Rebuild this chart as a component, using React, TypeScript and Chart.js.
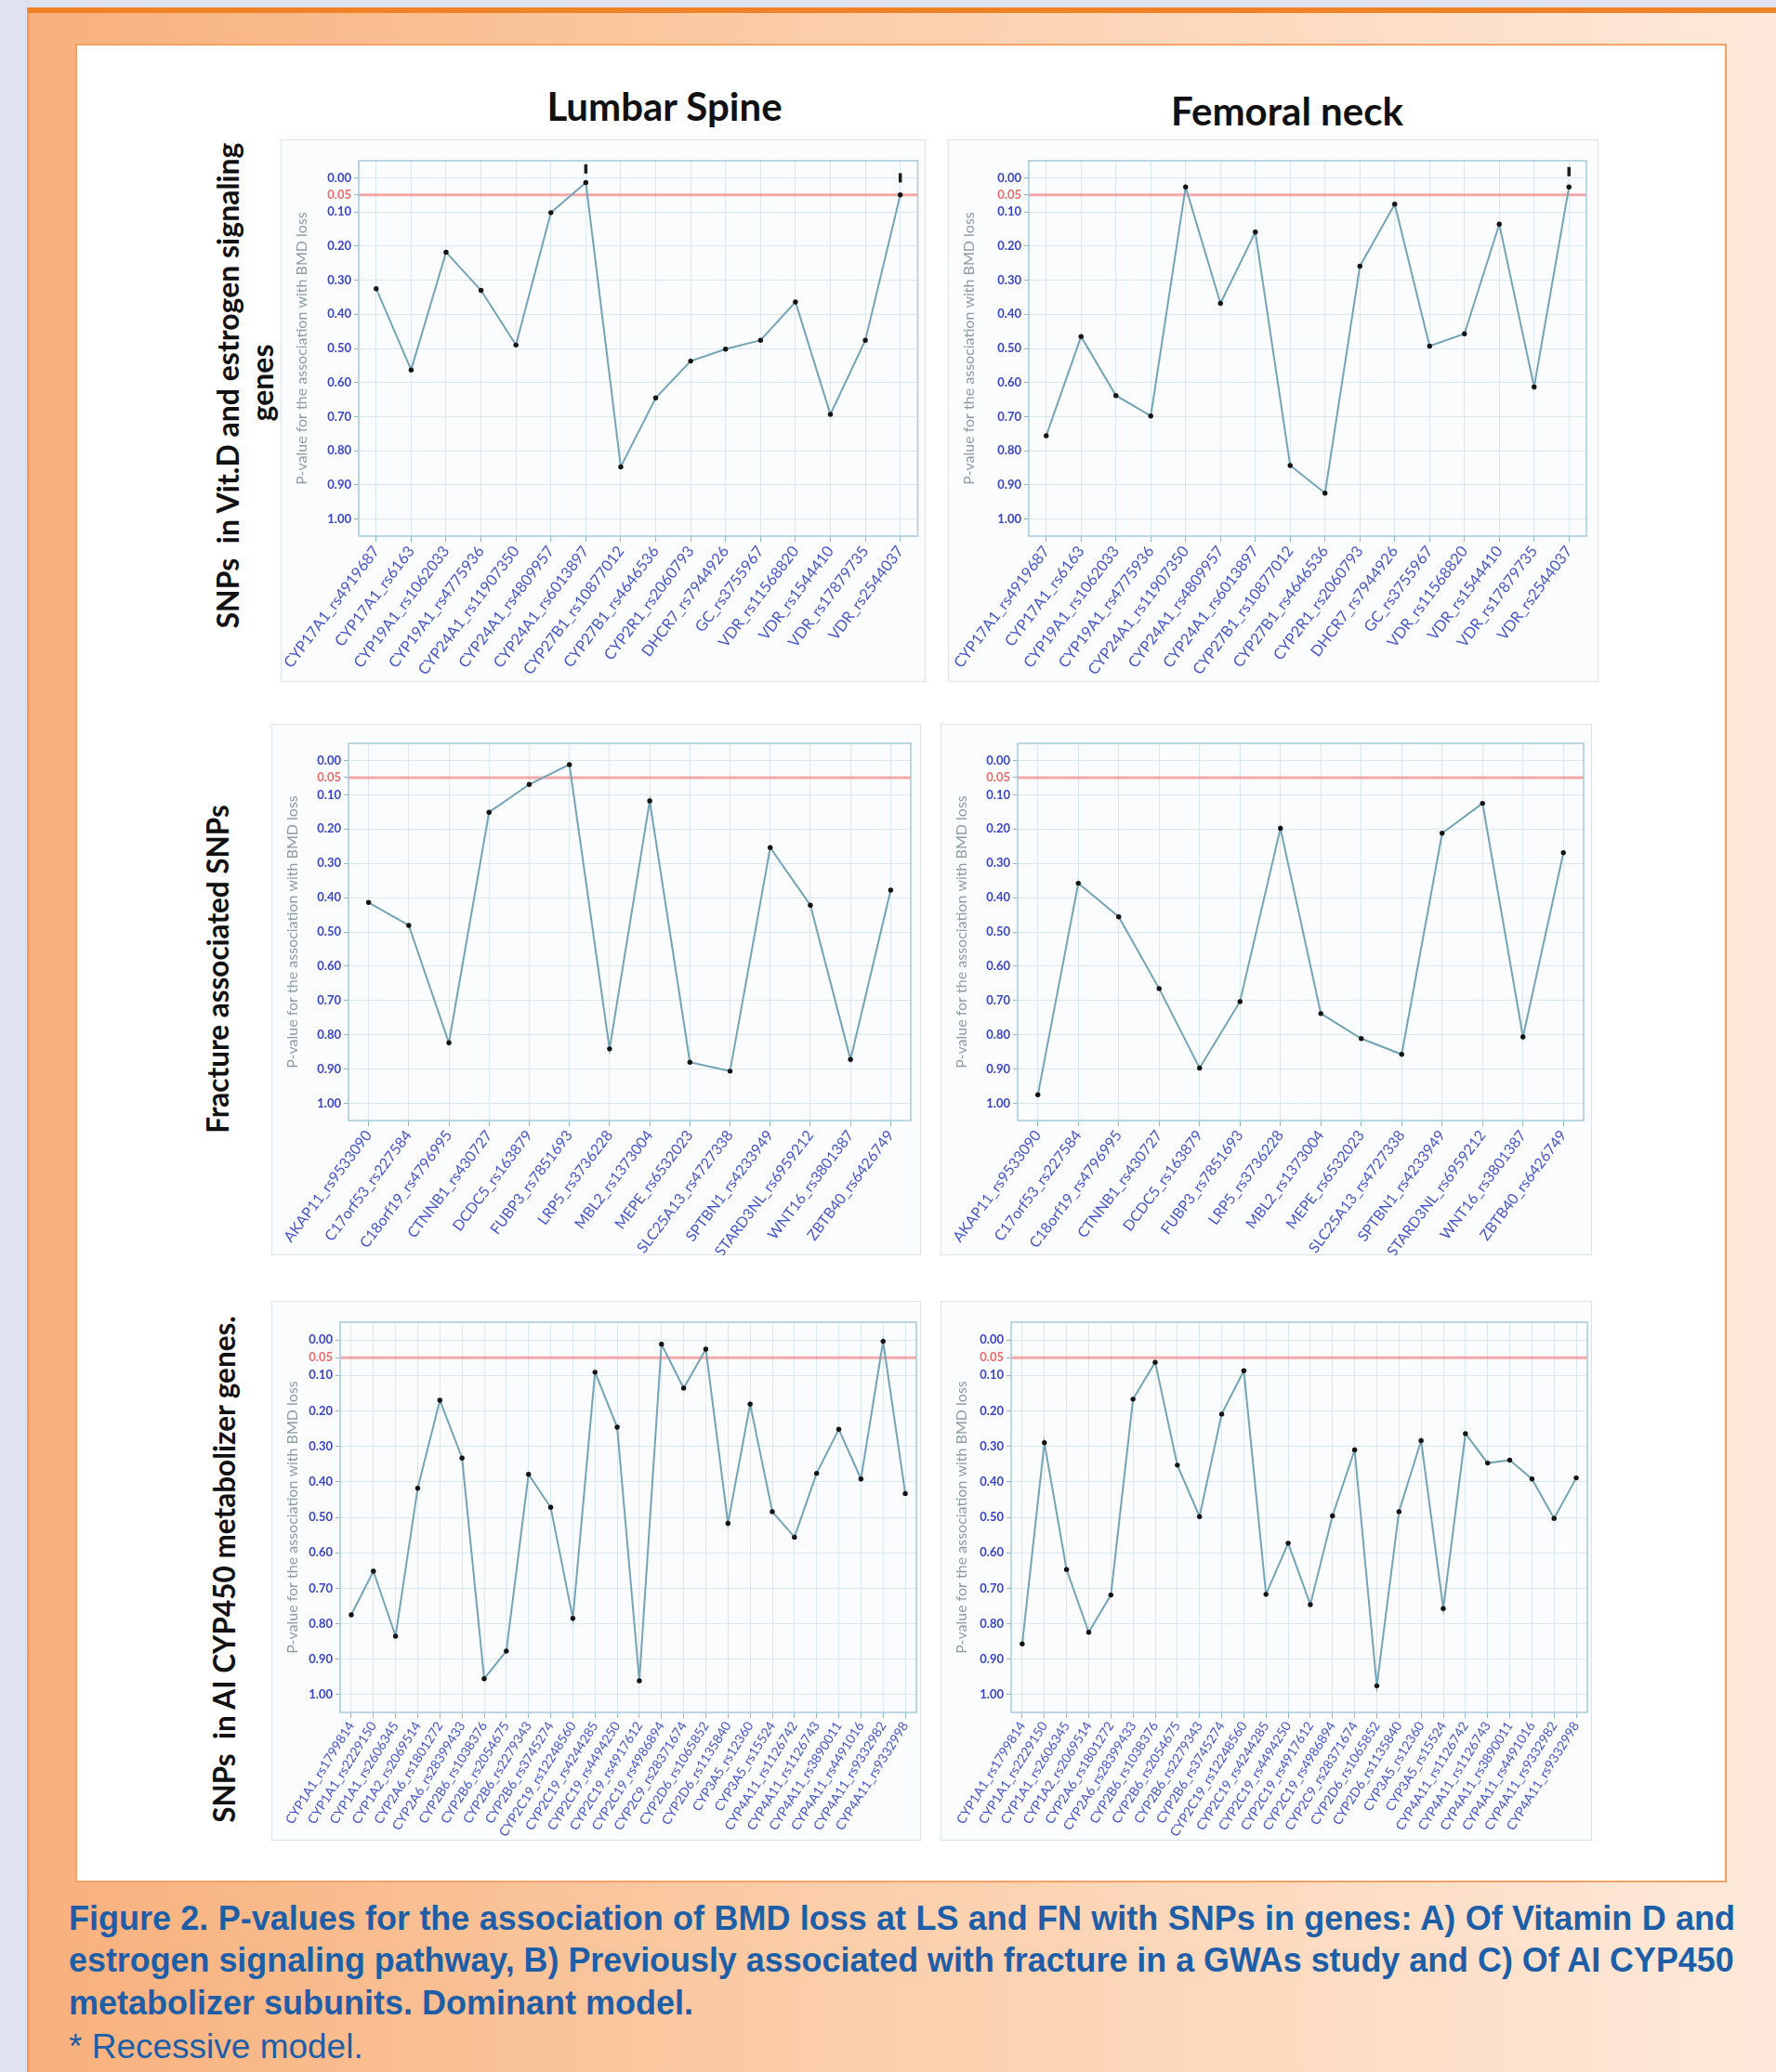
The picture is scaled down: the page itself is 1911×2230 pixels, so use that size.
import React, { useEffect, useRef } from 'react';
import { Chart, registerables } from 'chart.js';
Chart.register(...registerables);

// ---------------- DATA ----------------
const vitDLabels = [
  'CYP17A1_rs4919687', 'CYP17A1_rs6163', 'CYP19A1_rs1062033', 'CYP19A1_rs4775936',
  'CYP24A1_rs11907350', 'CYP24A1_rs4809957', 'CYP24A1_rs6013897', 'CYP27B1_rs10877012',
  'CYP27B1_rs4646536', 'CYP2R1_rs2060793', 'DHCR7_rs7944926', 'GC_rs3755967',
  'VDR_rs11568820', 'VDR_rs1544410', 'VDR_rs17879735', 'VDR_rs2544037',
];
const lsVitD = [0.325, 0.563, 0.218, 0.330, 0.490, 0.102, 0.014, 0.847, 0.645, 0.537, 0.502, 0.476, 0.364, 0.693, 0.476, 0.050];
const lsVitDRecessive = [null, null, null, null, null, null, -0.026, null, null, null, null, null, null, null, null, 0.0];
const fnVitD = [0.756, 0.465, 0.638, 0.698, 0.027, 0.368, 0.159, 0.843, 0.924, 0.259, 0.077, 0.493, 0.457, 0.136, 0.613, 0.027];
const fnVitDRecessive = [null, null, null, null, null, null, null, null, null, null, null, null, null, null, null, -0.018];

const fractureLabels = [
  'AKAP11_rs9533090', 'C17orf53_rs227584', 'C18orf19_rs4796995', 'CTNNB1_rs430727',
  'DCDC5_rs163879', 'FUBP3_rs7851693', 'LRP5_rs3736228', 'MBL2_rs1373004',
  'MEPE_rs6532023', 'SLC25A13_rs4727338', 'SPTBN1_rs4233949', 'STARD3NL_rs6959212',
  'WNT16_rs3801387', 'ZBTB40_rs6426749',
];
const lsFracture = [0.414, 0.481, 0.823, 0.151, 0.070, 0.012, 0.841, 0.118, 0.880, 0.906, 0.254, 0.422, 0.872, 0.378];
const fnFracture = [0.975, 0.358, 0.456, 0.665, 0.897, 0.703, 0.198, 0.738, 0.811, 0.857, 0.212, 0.125, 0.806, 0.269];

const cypLabels = [
  'CYP1A1_rs1799814', 'CYP1A1_rs2229150', 'CYP1A1_rs2606345', 'CYP1A2_rs2069514',
  'CYP2A6_rs1801272', 'CYP2A6_rs28399433', 'CYP2B6_rs1038376', 'CYP2B6_rs2054675',
  'CYP2B6_rs2279343', 'CYP2B6_rs3745274', 'CYP2C19_rs12248560', 'CYP2C19_rs4244285',
  'CYP2C19_rs4494250', 'CYP2C19_rs4917612', 'CYP2C19_rs4986894', 'CYP2C9_rs28371674',
  'CYP2D6_rs1065852', 'CYP2D6_rs1135840', 'CYP3A5_rs12360', 'CYP3A5_rs15524',
  'CYP4A11_rs1126742', 'CYP4A11_rs1126743', 'CYP4A11_rs3890011', 'CYP4A11_rs4491016',
  'CYP4A11_rs9332982', 'CYP4A11_rs9332998',
];
const lsCyp = [0.775, 0.652, 0.835, 0.418, 0.170, 0.333, 0.955, 0.877, 0.379, 0.472, 0.785, 0.091, 0.246, 0.961, 0.012, 0.136, 0.026, 0.517, 0.181, 0.484, 0.556, 0.376, 0.252, 0.392, 0.004, 0.433];
const fnCyp = [0.857, 0.290, 0.647, 0.824, 0.719, 0.167, 0.063, 0.353, 0.498, 0.209, 0.087, 0.717, 0.573, 0.746, 0.496, 0.310, 0.975, 0.484, 0.284, 0.757, 0.264, 0.347, 0.339, 0.392, 0.503, 0.389];

const yTickValues = [0, 0.05, 0.1, 0.2, 0.3, 0.4, 0.5, 0.6, 0.7, 0.8, 0.9, 1.0];
const significanceLevel = 0.05;

const columnTitles = ['Lumbar Spine', 'Femoral neck'];
const yAxisTitle = 'P-value for the association with BMD loss';
const captionLines = [
  'Figure 2. P-values for the association of BMD loss at LS and FN with SNPs in genes: A) Of Vitamin D and',
  'estrogen signaling pathway, B) Previously associated with fracture in a GWAs study and C) Of AI CYP450',
  'metabolizer subunits. Dominant model.',
];
const recessiveNote = '* Recessive model.';

// ---------------- STYLE ----------------
const LINE = '#74a4b6';
const GRID = '#d9e8f0';
const BLUE = '#3944c6';
const RED = '#f06a6a';
const XLABEL = '#4756cb';
const CAPTION = '#1e5ea7';
const CAPTION_FONT = '"Liberation Sans", Arial, sans-serif';

type Box = { x: number; y: number; w: number; h: number };
type Plot = { l: number; t: number; r: number; b: number };
type PanelCfg = {
  labels: string[];
  values: number[];
  marks?: (number | null)[];
  box: Box;
  plot: Plot;
  xFont: number;
  rot: number;
};

const thresholdPlugin = {
  id: 'threshold',
  beforeDatasetsDraw(chart: any) {
    const { ctx, chartArea, scales } = chart;
    const y = scales.y.getPixelForValue(significanceLevel);
    ctx.save();
    ctx.strokeStyle = 'rgba(242,140,140,0.75)';
    ctx.lineWidth = 3;
    ctx.beginPath();
    ctx.moveTo(chartArea.left, y);
    ctx.lineTo(chartArea.right, y);
    ctx.stroke();
    ctx.restore();
  },
};

const framePlugin = {
  id: 'frame',
  beforeDatasetsDraw(chart: any) {
    const { ctx, chartArea } = chart;
    ctx.save();
    ctx.strokeStyle = '#a8cadb';
    ctx.lineWidth = 1.5;
    ctx.strokeRect(chartArea.left, chartArea.top, chartArea.right - chartArea.left, chartArea.bottom - chartArea.top);
    ctx.restore();
  },
};

function LinePanel({ cfg }: { cfg: PanelCfg }) {
  const ref = useRef<HTMLCanvasElement>(null);
  useEffect(() => {
    const { box, plot } = cfg;
    const datasets: any[] = [
      {
        data: cfg.values,
        borderColor: LINE,
        borderWidth: 2,
        pointRadius: 2.7,
        pointBackgroundColor: '#141414',
        pointBorderColor: '#141414',
        pointBorderWidth: 0,
        tension: 0,
        order: 1,
      },
    ];
    if (cfg.marks) {
      datasets.push({
        data: cfg.marks,
        showLine: false,
        pointStyle: 'line',
        rotation: 90,
        pointRadius: 5,
        pointBorderWidth: 3.5,
        pointBorderColor: '#1e1e1e',
        borderColor: '#1e1e1e',
        clip: false,
        order: 0,
      });
    }
    const chart = new Chart(ref.current as HTMLCanvasElement, {
      type: 'line',
      data: { labels: cfg.labels, datasets },
      options: {
        animation: false,
        responsive: false,
        maintainAspectRatio: false,
        devicePixelRatio: 1,
        layout: { padding: { top: plot.t - box.y, right: box.x + box.w - plot.r, left: 0, bottom: 0 } },
        plugins: { legend: { display: false }, tooltip: { enabled: false } },
        scales: {
          x: {
            type: 'category',
            offset: true,
            grid: { color: GRID, tickColor: '#8fb8cb', tickLength: 6, lineWidth: 1 },
            border: { display: false },
            ticks: {
              autoSkip: false,
              minRotation: cfg.rot,
              maxRotation: cfg.rot,
              color: XLABEL,
              padding: 1,
              font: { family: 'Lato', size: cfg.xFont },
            },
            afterFit: (s: any) => {
              s.height = box.y + box.h - plot.b;
              s.paddingLeft = 0;
              s.paddingRight = 0;
            },
          },
          y: {
            reverse: true,
            min: -0.05,
            max: 1.05,
            afterBuildTicks: (s: any) => {
              s.ticks = yTickValues.map((v) => ({ value: v }));
            },
            ticks: {
              autoSkip: false,
              callback: (v: any) => Number(v).toFixed(2),
              color: (c: any) => (c.tick && Math.abs(c.tick.value - significanceLevel) < 1e-9 ? RED : BLUE),
              font: { family: 'Lato', weight: 'bold', size: 13 },
              padding: 3,
            },
            grid: {
              color: (c: any) => (c.tick && Math.abs(c.tick.value - significanceLevel) < 1e-9 ? 'rgba(0,0,0,0)' : GRID),
              tickColor: '#8fb8cb',
              tickLength: 5,
            },
            border: { display: false },
            title: {
              display: true,
              text: yAxisTitle,
              color: '#8c9ca0',
              font: { family: 'Lato', size: 16 },
              padding: { top: 13, bottom: 0 },
            },
            afterFit: (s: any) => {
              s.width = plot.l - box.x;
              s.paddingTop = 0;
              s.paddingBottom = 0;
            },
          },
        },
      } as any,
      plugins: [thresholdPlugin, framePlugin],
    });
    return () => chart.destroy();
  }, [cfg]);
  const { box } = cfg;
  return (
    <>
      <div
        style={{
          position: 'absolute', left: box.x, top: box.y, width: box.w, height: box.h,
          boxSizing: 'border-box', border: '1px solid #dde4e9', background: '#fbfcfd',
        }}
      />
      <canvas
        ref={ref}
        width={box.w}
        height={box.h}
        style={{ position: 'absolute', left: box.x, top: box.y, width: box.w, height: box.h }}
      />
    </>
  );
}

const panels: PanelCfg[] = [
  { labels: vitDLabels, values: lsVitD, marks: lsVitDRecessive, box: { x: 302, y: 150, w: 694, h: 584 }, plot: { l: 386, t: 173, r: 991, b: 577 }, xFont: 16.5, rot: 53 },
  { labels: vitDLabels, values: fnVitD, marks: fnVitDRecessive, box: { x: 1020, y: 150, w: 700, h: 584 }, plot: { l: 1107, t: 173, r: 1707, b: 577 }, xFont: 16.5, rot: 53 },
  { labels: fractureLabels, values: lsFracture, box: { x: 292, y: 779, w: 699, h: 572 }, plot: { l: 375, t: 800, r: 980, b: 1206 }, xFont: 16, rot: 53 },
  { labels: fractureLabels, values: fnFracture, box: { x: 1012, y: 779, w: 701, h: 572 }, plot: { l: 1095, t: 800, r: 1704, b: 1206 }, xFont: 16, rot: 53 },
  { labels: cypLabels, values: lsCyp, box: { x: 292, y: 1400, w: 699, h: 581 }, plot: { l: 366, t: 1423, r: 986, b: 1843 }, xFont: 14, rot: 58 },
  { labels: cypLabels, values: fnCyp, box: { x: 1012, y: 1400, w: 701, h: 581 }, plot: { l: 1088, t: 1423, r: 1708, b: 1843 }, xFont: 14, rot: 58 },
];

function VText({ text, cx, cy, size }: { text: string; cx: number; cy: number; size: number }) {
  return (
    <div
      style={{
        position: 'absolute', left: cx, top: cy, transform: 'translate(-50%, -50%) rotate(-90deg)',
        whiteSpace: 'pre', fontFamily: 'Lato, sans-serif', fontWeight: 700, fontSize: size, color: '#111',
        lineHeight: 1,
      }}
    >
      {text}
    </div>
  );
}

function measureText(text: string, font: string): number {
  const c = document.createElement('canvas').getContext('2d');
  if (!c) return 0;
  c.font = font;
  return c.measureText(text).width;
}

function CaptionLine({ text, top, size, bold, fitWidth }: { text: string; top: number; size: number; bold: boolean; fitWidth?: number }) {
  const font = `${bold ? 'bold ' : ''}${size}px ${CAPTION_FONT}`;
  const base: any = {
    position: 'absolute', left: 74, top, height: 44, lineHeight: '44px',
    fontFamily: CAPTION_FONT, fontWeight: bold ? 700 : 400, fontSize: size, color: CAPTION, whiteSpace: 'nowrap',
  };
  if (fitWidth) {
    const natural = measureText(text, font);
    if (natural > fitWidth) {
      base.transform = `scaleX(${fitWidth / natural})`;
      base.transformOrigin = 'left center';
    } else {
      base.width = fitWidth;
      base.textAlign = 'justify';
      base.textAlignLast = 'justify';
    }
  }
  return <div style={base}>{text}</div>;
}

export default function App() {
  return (
    <div style={{ position: 'absolute', left: 0, top: 0, width: 1911, height: 2230, overflow: 'hidden', background: '#dfe3f1' }}>
      <div
        style={{
          position: 'absolute', left: 29, top: 8, width: 1882, height: 2222, boxSizing: 'border-box',
          borderTop: '6px solid #ef8226', borderLeft: '2px solid #f29a55',
          background: 'linear-gradient(to right, #f7b07c 0%, #fbcda8 45%, #fee9da 100%)',
        }}
      />
      <div
        style={{
          position: 'absolute', left: 81, top: 47, width: 1777, height: 1979, boxSizing: 'border-box',
          background: '#ffffff', border: '2px solid #f4a266',
        }}
      />
      <div style={{ position: 'absolute', left: 715, top: 114, transform: 'translate(-50%, -50%)', fontFamily: 'Lato, sans-serif', fontWeight: 700, fontSize: 42, color: '#111', whiteSpace: 'nowrap' }}>
        {columnTitles[0]}
      </div>
      <div style={{ position: 'absolute', left: 1385, top: 119, transform: 'translate(-50%, -50%)', fontFamily: 'Lato, sans-serif', fontWeight: 700, fontSize: 42, color: '#111', whiteSpace: 'nowrap' }}>
        {columnTitles[1]}
      </div>
      <VText text="SNPs  in Vit.D and estrogen signaling" cx={245} cy={415} size={32} />
      <VText text="genes" cx={282} cy={412} size={32} />
      <VText text="Fracture associated SNPs" cx={235} cy={1043} size={31.5} />
      <VText text="SNPs  in AI CYP450 metabolizer genes." cx={242} cy={1689} size={31.5} />
      {panels.map((p, i) => (
        <LinePanel key={i} cfg={p} />
      ))}
      <CaptionLine text={captionLines[0]} top={2065 - 22} size={36} bold fitWidth={1793} />
      <CaptionLine text={captionLines[1]} top={2110 - 22} size={36} bold fitWidth={1793} />
      <CaptionLine text={captionLines[2]} top={2156 - 22} size={36} bold />
      <CaptionLine text={recessiveNote} top={2203 - 22} size={37} bold={false} />
    </div>
  );
}
